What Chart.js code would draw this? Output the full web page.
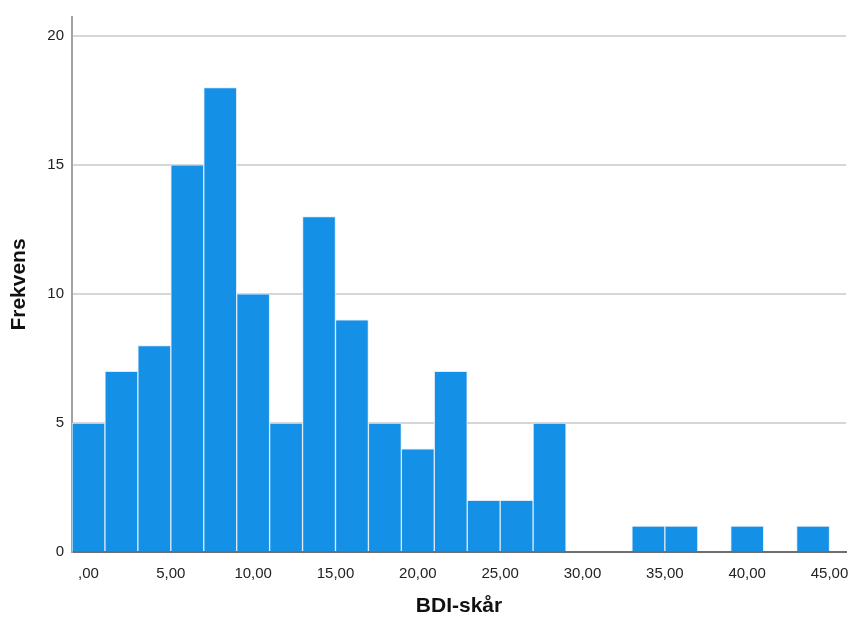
<!DOCTYPE html>
<html>
<head>
<meta charset="utf-8">
<script src="https://cdn.jsdelivr.net/npm/chart.js@4"></script>
<style>
  html, body { margin:0; padding:0; background:#fff; }
  #wrap { width:850px; height:619px; position:relative; }
</style>
</head>
<body>
<div id="wrap"><canvas id="chart"></canvas></div>
<script>
// histogram bins (centres of 2-point wide bins) and frequencies
const binCenters = [0, 2, 4, 6, 8, 10, 12, 14, 16, 18, 20, 22, 24, 26, 28, 30, 32, 34, 36, 38, 40, 42, 44];
const counts     = [5, 7, 8, 15, 18, 10, 5, 13, 9, 5, 4, 7, 2, 2, 5, 0, 0, 1, 1, 0, 1, 0, 1];
const xTicks     = [0, 5, 10, 15, 20, 25, 30, 35, 40, 45];
const yTicks     = [0, 5, 10, 15, 20];

const FONT = '"Liberation Sans", Arial, sans-serif';

function fmt(v) {
  // SPSS-style decimal comma, ",00" for zero
  var s = v.toFixed(2).replace('.', ',');
  return s.indexOf('0,') === 0 ? s.slice(1) : s;
}

new Chart(document.getElementById('chart'), {
  type: 'bar',
  data: {
    datasets: [{
      data: binCenters.map(function(c, i) { return { x: c, y: counts[i] }; }),
      backgroundColor: '#1490e6',
      borderColor: '#dcebf8',
      borderWidth: function(ctx) { return ctx.raw && ctx.raw.y > 0 ? 1 : 0; },
      barPercentage: 1,
      categoryPercentage: 1,
      grouped: false
    }]
  },
  options: {
    responsive: true,
    maintainAspectRatio: false,
    animation: false,
    layout: { padding: { top: 14, right: 4, left: 0, bottom: 0 } },
    plugins: { legend: { display: false }, tooltip: { enabled: false } },
    scales: {
      x: {
        type: 'linear',
        min: -1, max: 46,
        offset: false,
        afterBuildTicks: function(s) { s.ticks = xTicks.map(function(v) { return { value: v }; }); },
        afterFit: function(s) { s.height = 67; s.paddingRight = 4; s.paddingLeft = 0; },
        grid: { display: false, drawTicks: false },
        border: { display: true, color: '#6e6e6e', width: 2 },
        ticks: {
          padding: 13,
          color: '#222',
          font: { family: FONT, size: 15 },
          maxRotation: 0,
          autoSkip: false,
          callback: function(v) { return fmt(v); }
        },
        title: {
          display: true,
          text: 'BDI-skår',
          color: '#111',
          font: { family: FONT, size: 21, weight: 'bold' },
          padding: { top: 0, bottom: 0 }
        }
      },
      y: {
        min: 0, max: 20.73,
        afterBuildTicks: function(s) { s.ticks = yTicks.map(function(v) { return { value: v }; }); },
        afterFit: function(s) { s.width = 72; },
        grid: { color: '#d6d6d6', lineWidth: 2, drawTicks: false },
        border: { display: true, color: '#a3a3a3', width: 2 },
        ticks: {
          padding: 8,
          color: '#222',
          font: { family: FONT, size: 15 },
          callback: function(v) { return String(v); }
        },
        title: {
          display: true,
          text: 'Frekvens',
          color: '#111',
          font: { family: FONT, size: 21, weight: 'bold' },
          padding: { top: 7, bottom: 0 }
        }
      }
    }
  }
});
</script>
</body>
</html>
